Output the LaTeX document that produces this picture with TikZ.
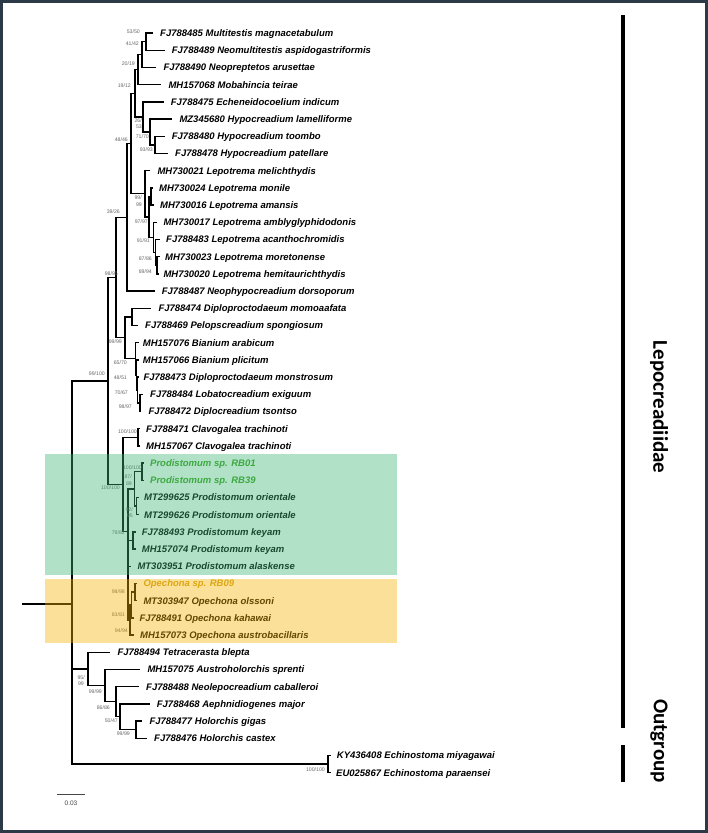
\documentclass[tikz,border=0pt]{standalone}
\usepackage{fontspec}
\setmainfont{Liberation Sans}
\newfontfamily\carlito{Carlito}
\definecolor{framecol}{RGB}{44,58,72}
\definecolor{bsgray}{RGB}{105,105,105}
\definecolor{boxgreen}{RGB}{62,182,117}
\definecolor{boxyellow}{RGB}{245,178,0}
\definecolor{greentext}{RGB}{60,160,30}
\definecolor{goldtext}{RGB}{205,160,30}
\definecolor{scalegray}{RGB}{70,70,70}
\newcommand\taxon[5]{\coordinate (t#1) at (#2,#4);\node[tax] (l#1) at (#3,#4+3.4) {#5};}
\newcommand\bsl[4]{\node[bs] (#1) at (#2,#3+1.8) {#4};}
\begin{document}
\begin{tikzpicture}[x=1pt,y=-1pt,
  tax/.style={anchor=base west,inner sep=0pt,font=\fontsize{9.5}{10}\selectfont\bfseries\itshape},
  bs/.style={anchor=base east,inner sep=0pt,text=bsgray,font=\fontsize{5.2}{5.2}\selectfont},
  br/.style={line width=1.4pt,black},
  hbox/.style={draw=none,fill opacity=0.4}]
\useasboundingbox (0,0) rectangle (708,833);
\fill[white] (0,0) rectangle (708,833);
% ---------- internal nodes
\coordinate (n1) at (146,41.6);
\coordinate (n2) at (142,54.5);
\coordinate (n3) at (138,69.55);
\coordinate (h1) at (155,144.8);
\coordinate (h2) at (150,131.9);
\coordinate (h3) at (143,116.85);
\coordinate (n4) at (135,93.2);
\coordinate (L1) at (151,196.4);
\coordinate (L2) at (157,265.2);
\coordinate (L3) at (155.5,252.3);
\coordinate (L4) at (153.5,237.25);
\coordinate (L5) at (149,216.8);
\coordinate (L6) at (145,193.7);
\coordinate (n5) at (131,143.45);
\coordinate (n6) at (127,217.2);
\coordinate (Ba) at (132,316.8);
\coordinate (B1) at (140,402.8);
\coordinate (B2) at (137.5,389.9);
\coordinate (B3) at (136.5,374.85);
\coordinate (B4) at (135.5,358.7);
\coordinate (Br) at (125,337.75);
\coordinate (N9895) at (116,277.5);
\coordinate (C1) at (138,437.2);
\coordinate (P1) at (142,471.6);
\coordinate (P2) at (136.5,506);
\coordinate (P3) at (134.5,488.8);
\coordinate (P4) at (133,540.4);
\coordinate (O1) at (135,592);
\coordinate (O2) at (131.5,604.9);
\coordinate (O3) at (130,619.95);
\coordinate (C2) at (128,531.2);
\coordinate (C) at (123,484.2);
\coordinate (N99100) at (108,380.85);
\coordinate (D1) at (136,729.6);
\coordinate (D2) at (120,716.7);
\coordinate (D3) at (116,701.65);
\coordinate (D4) at (105,685.5);
\coordinate (D5) at (88,668.9);
\coordinate (E) at (328,764);
\coordinate (Root) at (72,604);
\coordinate (stub) at (22,604);
% ---------- taxa
\taxon{0}{153}{160}{33}{FJ788485 Multitestis magnacetabulum}
\taxon{1}{164.7}{171.7}{50.2}{FJ788489 Neomultitestis aspidogastriformis}
\taxon{2}{156.3}{163.3}{67.4}{FJ788490 Neopreptetos arusettae}
\taxon{3}{161.3}{168.3}{84.6}{MH157068 Mobahincia teirae}
\taxon{4}{163.7}{170.7}{101.8}{FJ788475 Echeneidocoelium indicum}
\taxon{5}{172.3}{179.3}{119}{MZ345680 Hypocreadium lamelliforme}
\taxon{6}{164.7}{171.7}{136.2}{FJ788480 Hypocreadium toombo}
\taxon{7}{168}{175}{153.4}{FJ788478 Hypocreadium patellare}
\taxon{8}{150.3}{157.3}{170.6}{MH730021 Lepotrema melichthydis}
\taxon{9}{152.5}{159}{187.8}{MH730024 Lepotrema monile}
\taxon{10}{153.5}{160}{205}{MH730016 Lepotrema amansis}
\taxon{11}{156.8}{163.3}{222.2}{MH730017 Lepotrema amblyglyphidodonis}
\taxon{12}{159.5}{166}{239.4}{FJ788483 Lepotrema acanthochromidis}
\taxon{13}{159.5}{165}{256.6}{MH730023 Lepotrema moretonense}
\taxon{14}{158.5}{163.3}{273.8}{MH730020 Lepotrema hemitaurichthydis}
\taxon{15}{154.7}{161.7}{291}{FJ788487 Neophypocreadium dorsoporum}
\taxon{16}{151.3}{158.3}{308.2}{FJ788474 Diploproctodaeum momoaafata}
\taxon{17}{138}{145}{325.4}{FJ788469 Pelopscreadium spongiosum}
\taxon{18}{138.5}{142.7}{342.6}{MH157076 Bianium arabicum}
\taxon{19}{138.5}{142.7}{359.8}{MH157066 Bianium plicitum}
\taxon{20}{139}{143.3}{377}{FJ788473 Diploproctodaeum monstrosum}
\taxon{21}{143}{150}{394.2}{FJ788484 Lobatocreadium exiguum}
\taxon{22}{141.3}{148.3}{411.4}{FJ788472 Diplocreadium tsontso}
\taxon{23}{139.5}{146}{428.6}{FJ788471 Clavogalea trachinoti}
\taxon{24}{139.5}{146}{445.8}{MH157067 Clavogalea trachinoti}
\taxon{25}{143.5}{150}{463}{\textcolor{greentext}{Prodistomum sp. RB01}}
\taxon{26}{143.5}{150}{480.2}{\textcolor{greentext}{Prodistomum sp. RB39}}
\taxon{27}{139}{144}{497.4}{MT299625 Prodistomum orientale}
\taxon{28}{139}{144}{514.6}{MT299626 Prodistomum orientale}
\taxon{29}{135.5}{141.7}{531.8}{FJ788493 Prodistomum keyam}
\taxon{30}{135.5}{141.7}{549}{MH157074 Prodistomum keyam}
\taxon{31}{130.5}{137.3}{566.2}{MT303951 Prodistomum alaskense}
\taxon{32}{137}{143.3}{583.4}{\textcolor{goldtext}{Opechona sp. RB09}}
\taxon{33}{137}{143.3}{600.6}{MT303947 Opechona olssoni}
\taxon{34}{133.5}{139.3}{617.8}{FJ788491 Opechona kahawai}
\taxon{35}{133.5}{140}{635}{MH157073 Opechona austrobacillaris}
\taxon{36}{110.3}{117.3}{652.2}{FJ788494 Tetracerasta blepta}
\taxon{37}{140.3}{147.3}{669.4}{MH157075 Austroholorchis sprenti}
\taxon{38}{139}{146}{686.6}{FJ788488 Neolepocreadium caballeroi}
\taxon{39}{149.7}{156.7}{703.8}{FJ788468 Aephnidiogenes major}
\taxon{40}{142.3}{149.3}{721}{FJ788477 Holorchis gigas}
\taxon{41}{147}{154}{738.2}{FJ788476 Holorchis castex}
\taxon{42}{331}{336.7}{755.4}{KY436408 Echinostoma miyagawai}
\taxon{43}{331}{336}{772.6}{EU025867 Echinostoma paraensei}
% ---------- branches
\draw[br] (stub) -- (Root);
\draw[br] (Root) |- (N99100);
\draw[br] (Root) |- (D5);
\draw[br] (Root) |- (E);
\draw[br] (N99100) |- (N9895);
\draw[br] (N99100) |- (C);
\draw[br] (N9895) |- (n6);
\draw[br] (N9895) |- (Br);
\draw[br] (n6) |- (n5);
\draw[br] (n6) |- (t15);
\draw[br] (n5) |- (n4);
\draw[br] (n5) |- (L6);
\draw[br] (n4) |- (n3);
\draw[br] (n4) |- (h3);
\draw[br] (n3) |- (n2);
\draw[br] (n3) |- (t3);
\draw[br] (n2) |- (n1);
\draw[br] (n2) |- (t2);
\draw[br] (n1) |- (t0);
\draw[br] (n1) |- (t1);
\draw[br] (h3) |- (t4);
\draw[br] (h3) |- (h2);
\draw[br] (h2) |- (t5);
\draw[br] (h2) |- (h1);
\draw[br] (h1) |- (t6);
\draw[br] (h1) |- (t7);
\draw[br] (L6) |- (t8);
\draw[br] (L6) |- (L5);
\draw[br] (L5) |- (L1);
\draw[br] (L5) |- (L4);
\draw[br] (L1) |- (t9);
\draw[br] (L1) |- (t10);
\draw[br] (L4) |- (t11);
\draw[br] (L4) |- (L3);
\draw[br] (L3) |- (t12);
\draw[br] (L3) |- (L2);
\draw[br] (L2) |- (t13);
\draw[br] (L2) |- (t14);
\draw[br] (Br) |- (Ba);
\draw[br] (Br) |- (B4);
\draw[br] (Ba) |- (t16);
\draw[br] (Ba) |- (t17);
\draw[br] (B4) |- (t18);
\draw[br] (B4) |- (B3);
\draw[br] (B3) |- (t19);
\draw[br] (B3) |- (B2);
\draw[br] (B2) |- (t20);
\draw[br] (B2) |- (B1);
\draw[br] (B1) |- (t21);
\draw[br] (B1) |- (t22);
\draw[br] (C) |- (C1);
\draw[br] (C) |- (C2);
\draw[br] (C1) |- (t23);
\draw[br] (C1) |- (t24);
\draw[br] (C2) |- (P3);
\draw[br] (C2) |- (P4);
\draw[br] (C2) |- (t31);
\draw[br] (C2) |- (O3);
\draw[br] (P3) |- (P1);
\draw[br] (P3) |- (P2);
\draw[br] (P1) |- (t25);
\draw[br] (P1) |- (t26);
\draw[br] (P2) |- (t27);
\draw[br] (P2) |- (t28);
\draw[br] (P4) |- (t29);
\draw[br] (P4) |- (t30);
\draw[br] (O3) |- (O2);
\draw[br] (O3) |- (t35);
\draw[br] (O2) |- (O1);
\draw[br] (O2) |- (t34);
\draw[br] (O1) |- (t32);
\draw[br] (O1) |- (t33);
\draw[br] (D5) |- (t36);
\draw[br] (D5) |- (D4);
\draw[br] (D4) |- (t37);
\draw[br] (D4) |- (D3);
\draw[br] (D3) |- (t38);
\draw[br] (D3) |- (D2);
\draw[br] (D2) |- (t39);
\draw[br] (D2) |- (D1);
\draw[br] (D1) |- (t40);
\draw[br] (D1) |- (t41);
\draw[br] (E) |- (t42);
\draw[br] (E) |- (t43);
% ---------- support values
\bsl{b1}{140}{32}{53/50}
\bsl{b2}{139}{44}{41/42}
\bsl{b3}{135}{64}{20/19}
\bsl{b4}{131}{86}{19/12}
\bsl{b5}{142}{121}{26/}
\bsl{b5b}{142}{127}{53}
\bsl{b6}{149}{137}{71/70}
\bsl{b7}{153}{150}{93/93}
\bsl{b8}{128}{140}{48/46}
\bsl{b9}{142}{198}{99/}
\bsl{b9b}{142}{205}{99}
\bsl{b10}{148}{222}{97/97}
\bsl{b11}{150}{241}{91/91}
\bsl{b12}{152}{259}{87/86}
\bsl{b13}{152}{272}{89/94}
\bsl{b14}{120}{212}{39/26}
\bsl{b15}{118}{274}{98/95}
\bsl{b16}{105}{374}{99/100}
\bsl{b17}{122}{342}{99/99}
\bsl{b18}{127}{363}{65/70}
\bsl{b19}{127}{378}{48/51}
\bsl{b20}{128}{393}{70/67}
\bsl{b21}{132}{407}{98/97}
\bsl{b22}{137}{432}{100/100}
\bsl{b23}{142}{468}{100/100}
\bsl{b24}{132}{477}{87/}
\bsl{b24b}{132}{484}{89}
\bsl{b25}{133}{510}{92/}
\bsl{b25b}{133}{516}{95}
\bsl{b26}{125}{533}{79/82}
\bsl{b27}{120}{488}{100/100}
\bsl{b28}{125}{592}{98/98}
\bsl{b29}{125}{615}{83/81}
\bsl{b30}{128}{631}{94/94}
\bsl{b31}{85}{678}{95/}
\bsl{b31b}{84}{684}{99}
\bsl{b32}{102}{692}{99/99}
\bsl{b33}{110}{708}{86/86}
\bsl{b34}{118}{721}{50/47}
\bsl{b35}{130}{734}{99/99}
\bsl{b36}{325}{770}{100/100}
% ---------- highlight boxes
\fill[boxgreen,hbox] (45,454) rectangle (397,575);
\fill[boxyellow,hbox] (45,579) rectangle (397,643);
% ---------- scale bar
\coordinate (sa) at (57.3,794.7);
\coordinate (sb) at (85.3,794.7);
\draw[line width=0.9pt,scalegray] (sa) -- (sb);
\node[inner sep=0pt,text=scalegray,font=\fontsize{6.5}{7}\selectfont] (sl) at (71,803.7) {0.03};
% ---------- clade bars
\coordinate (cb1a) at (623,15);
\coordinate (cb1b) at (623,728);
\coordinate (cb2a) at (623,745);
\coordinate (cb2b) at (623,782);
\draw[line width=4pt] (cb1a) -- (cb1b);
\draw[line width=4pt] (cb2a) -- (cb2b);
\node[rotate=-90,inner sep=0pt,font=\carlito\bfseries\fontsize{21}{23}\selectfont] (lep) at (659,407) {Lepocreadiidae};
\node[rotate=-90,inner sep=0pt,font=\carlito\bfseries\fontsize{21}{23}\selectfont] (outg) at (659,741) {Outgroup};
% ---------- frame
\draw[framecol,line width=2.6pt] (1.3,1.3) rectangle (706.7,831.7);
\end{tikzpicture}
\end{document}
